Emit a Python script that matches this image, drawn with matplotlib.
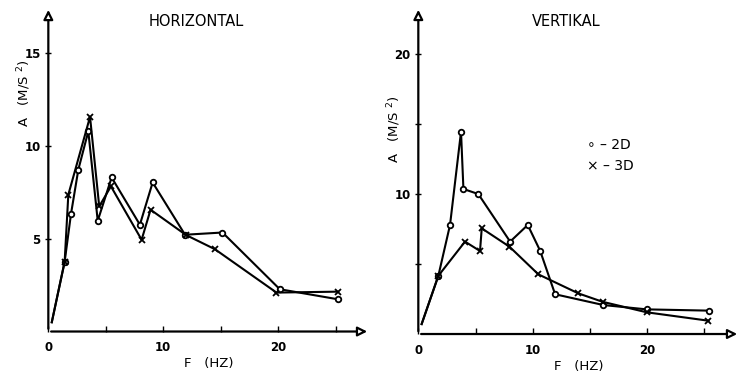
import matplotlib.pyplot as plt

# HORIZONTAL panel
h_f_2d = [0.3, 1.42, 1.97, 2.61, 3.48, 4.3, 5.51, 7.97, 9.08, 11.9, 15.16, 20.15, 25.2]
h_a_2d = [0.5, 3.76, 6.33, 8.73, 10.8, 5.97, 8.31, 5.76, 8.04, 5.22, 5.34, 2.28, 1.74]
h_f_3d = [0.3, 1.42, 1.74, 3.63, 4.43, 5.45, 8.12, 8.9, 12.0, 14.5, 19.86, 25.2]
h_a_3d = [0.5, 3.76, 7.38, 11.58, 6.75, 7.83, 4.95, 6.57, 5.2, 4.44, 2.1, 2.15]

# VERTIKAL panel
v_f_2d = [0.29, 1.75, 2.77, 3.73, 3.94, 5.24, 8.02, 9.56, 10.64, 11.95, 16.17, 19.96, 25.4]
v_a_2d = [0.71, 4.16, 7.79, 14.45, 10.36, 10.0, 6.6, 7.79, 5.95, 2.84, 2.07, 1.76, 1.67]
v_f_3d = [0.29, 1.75, 4.08, 5.39, 5.54, 7.96, 10.49, 13.99, 16.1, 19.96, 25.35]
v_a_3d = [0.71, 4.16, 6.6, 5.93, 7.55, 6.24, 4.26, 2.9, 2.3, 1.55, 0.95]

x_ticks_major = [0, 10, 20]
x_ticks_minor = [5, 15, 25]

fig = plt.figure(figsize=(7.47, 3.79), dpi=100)
ax1 = fig.add_axes([0.0647, 0.1253, 0.4306, 0.856])
ax2 = fig.add_axes([0.560, 0.1187, 0.4306, 0.8628])


def style_axis(ax, xmax, ymax, yticks, ylabels, title, label_y):
    ax.set_xlim(0, xmax)
    ax.set_ylim(0, ymax)
    for s in ax.spines.values():
        s.set_visible(False)
    # axes drawn as arrows
    ax.annotate('', xy=(xmax, 0), xytext=(0, 0), annotation_clip=False,
                arrowprops=dict(arrowstyle='-|>', lw=1.6, color='black',
                                mutation_scale=14, fc='white'))
    ax.annotate('', xy=(0, ymax), xytext=(0, 0), annotation_clip=False,
                arrowprops=dict(arrowstyle='-|>', lw=1.6, color='black',
                                mutation_scale=14, fc='white'))
    ax.set_xticks(x_ticks_major)
    ax.set_xticks(x_ticks_minor, minor=True)
    ax.set_xticklabels([str(t) for t in x_ticks_major], fontsize=8.5, fontweight='bold')
    ax.set_yticks(yticks)
    ax.set_yticklabels(ylabels, fontsize=8.5, fontweight='bold')
    ax.tick_params(axis='x', which='both', direction='in', length=4, width=1, pad=7)
    ax.tick_params(axis='y', direction='inout', length=5, width=1, pad=3)
    ax.set_xlabel('F   (HZ)', fontsize=9.5, labelpad=2)
    ax.text(-0.075, label_y, 'A   (M/S $^2$)', transform=ax.transAxes, rotation=90,
            ha='center', va='center', fontsize=9.5)
    ax.text(0.46, 0.955, title, transform=ax.transAxes, ha='center', va='center',
            fontsize=10.5)


def plot_series(ax, f, a, marker):
    # the first point (near the origin) carries no marker
    ax.plot(f, a, color='black', lw=1.5, marker=marker, ms=4,
            mfc='white', mec='black', mew=1.3, markevery=list(range(1, len(f))))


plot_series(ax1, h_f_2d, h_a_2d, 'o')
plot_series(ax1, h_f_3d, h_a_3d, 'x')
style_axis(ax1, 28, 17.5, [5, 10, 15], ['5', '10', '15'], 'HORIZONTAL', 0.735)

plot_series(ax2, v_f_2d, v_a_2d, 'o')
plot_series(ax2, v_f_3d, v_a_3d, 'x')
style_axis(ax2, 28.1, 23.36, [5, 10, 15, 20], ['', '10', '', '20'], 'VERTIKAL', 0.627)

ax2.text(0.525, 0.578, '∘ – 2D', transform=ax2.transAxes, fontsize=10, va='center')
ax2.text(0.525, 0.514, '× – 3D', transform=ax2.transAxes, fontsize=10, va='center')

fig.savefig('out.png', dpi=100)
